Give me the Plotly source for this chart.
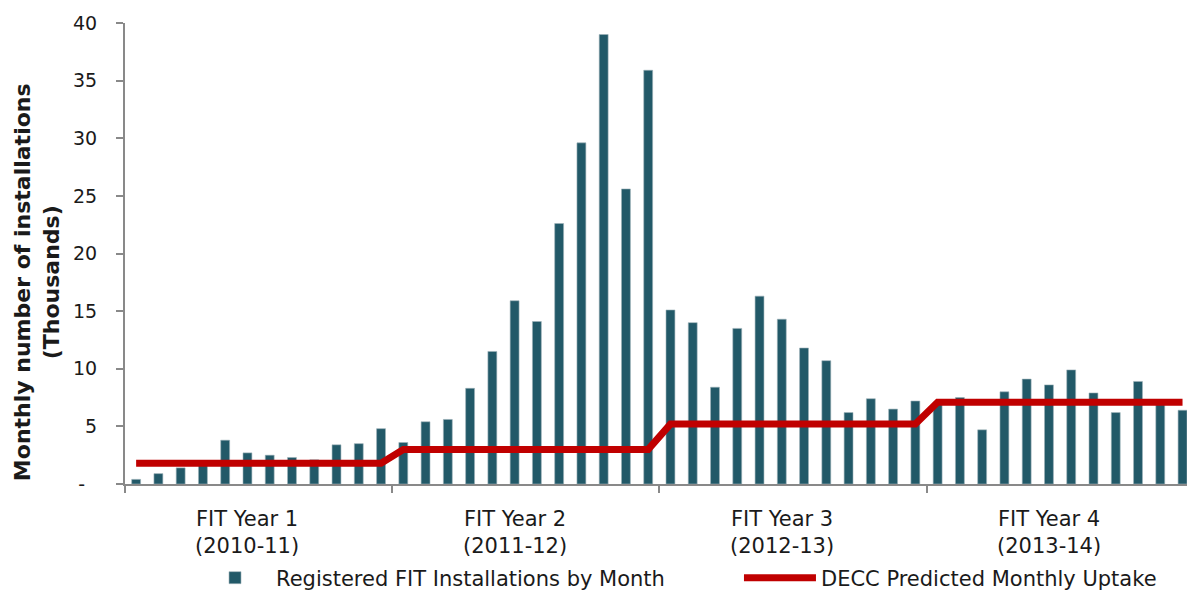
import plotly.graph_objects as go

# ---- data ----
months = [f"M{i+1}" for i in range(48)]  # Apr 2010 .. Mar 2014
installations = [
    0.4, 0.9, 1.4, 1.7, 3.8, 2.7, 2.5, 2.3, 2.1, 3.4, 3.5, 4.8,
    3.6, 5.4, 5.6, 8.3, 11.5, 15.9, 14.1, 22.6, 29.6, 39.0, 25.6, 35.9,
    15.1, 14.0, 8.4, 13.5, 16.3, 14.3, 11.8, 10.7, 6.2, 7.4, 6.5, 7.2,
    7.1, 7.5, 4.7, 8.0, 9.1, 8.6, 9.9, 7.9, 6.2, 8.9, 6.9, 6.4,
]
predicted = [1.8] * 12 + [3.0] * 12 + [5.2] * 12 + [7.1] * 12
year_labels = ["FIT Year 1<br>(2010-11)", "FIT Year 2<br>(2011-12)",
               "FIT Year 3<br>(2012-13)", "FIT Year 4<br>(2013-14)"]
y_title = "Monthly number of installations<br>(Thousands)"
y_ticks = [0, 5, 10, 15, 20, 25, 30, 35, 40]
y_ticktext = ["-\u2007", "5", "10", "15", "20", "25", "30", "35", "40"]

x = list(range(len(months)))

FONT = "DejaVu Sans"
TEXT = "#1a1a1a"
AXIS = "#898989"

fig = go.Figure()
fig.add_trace(go.Bar(
    x=x, y=installations, name="Registered FIT Installations by Month",
    marker=dict(color="#225968", line=dict(color="#9db2b8", width=0.6)),
    width=0.4, legend="legend",
))
fig.add_trace(go.Scatter(
    x=x, y=predicted, name="DECC Predicted Monthly Uptake", mode="lines",
    line=dict(color="#C00000", width=7), legend="legend2",
))

for k, lab in enumerate(year_labels):
    fig.add_annotation(x=12 * k + 5, y=-0.045, xref="x", yref="paper",
                       text=lab, showarrow=False, xanchor="center", yanchor="top",
                       font=dict(family=FONT, size=21, color=TEXT), align="center")

fig.add_annotation(x=-0.0822, y=0.438, xref="paper", yref="paper",
                   text=f"<b>{y_title}</b>", textangle=-90, showarrow=False,
                   xanchor="center", yanchor="middle", align="center",
                   font=dict(family=FONT, size=22, color=TEXT))

legend_common = dict(orientation="h", xanchor="left",
                     yref="container", y=0.0206, yanchor="middle",
                     font=dict(family=FONT, size=21, color=TEXT), itemwidth=72,
                     bgcolor="rgba(0,0,0,0)")

fig.update_layout(
    width=1187, height=582,
    margin=dict(l=117, r=0, t=15, b=106, autoexpand=False),
    paper_bgcolor="white", plot_bgcolor="white",
    font=dict(family=FONT, size=21, color=TEXT),
    showlegend=True,
    legend=dict(x=0.0645, **legend_common),
    legend2=dict(x=0.5738, **legend_common),
    xaxis=dict(range=[-0.5, 47.56], showgrid=False, zeroline=False, automargin=False,
               showline=True, linecolor=AXIS, linewidth=2,
               tickmode="array", tickvals=[-0.5, 11.5, 23.5, 35.5],
               ticktext=["", "", "", ""], ticks="outside", ticklen=7,
               tickcolor=AXIS, tickwidth=2),
    yaxis=dict(range=[0, 40], showgrid=False, zeroline=False, automargin=False,
               showline=True, linecolor=AXIS, linewidth=2,
               tickmode="array", tickvals=y_ticks, ticktext=y_ticktext,
               ticks="outside", ticklen=7, tickcolor=AXIS, tickwidth=2,
               ticklabelstandoff=15,
               tickfont=dict(family=FONT, size=19, color=TEXT)),
)

fig.write_html("out.html")
